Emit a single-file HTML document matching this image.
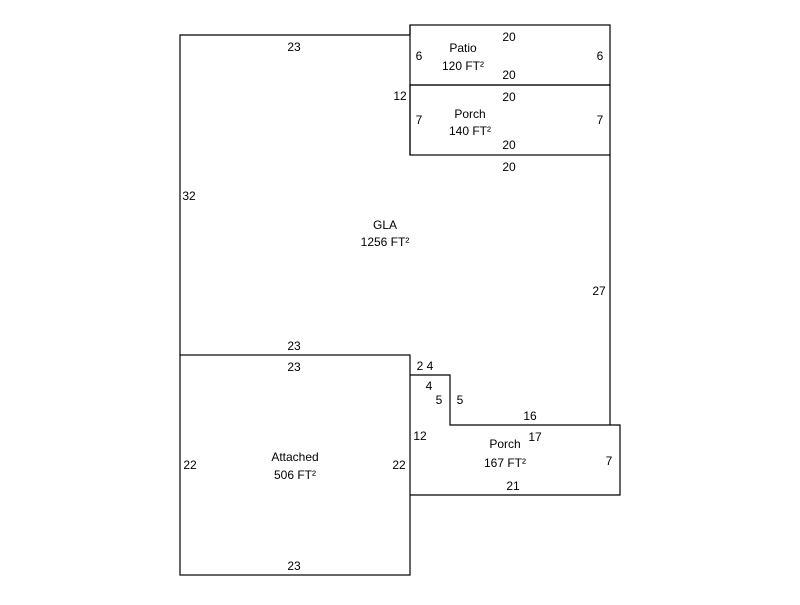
<!DOCTYPE html>
<html><head><style>body{margin:0;background:#fff}svg text{font-family:"Liberation Sans",Arial,sans-serif;font-size:12px;fill:#000}</style></head>
<body>
<svg width="800" height="600" xmlns="http://www.w3.org/2000/svg">
<g stroke="#000" stroke-width="1.2" fill="none">
<polyline points="410,35 180,35 180,355"/>
<rect x="410" y="25" width="200" height="60"/>
<rect x="410" y="85" width="200" height="70"/>
<line x1="410" y1="85" x2="410" y2="155"/>
<line x1="610" y1="155" x2="610" y2="425"/>
<rect x="180" y="355" width="230" height="220"/>
<polyline points="410,375 450,375 450,425 620,425 620,495 410,495"/>
<line x1="410" y1="35" x2="410" y2="25"/>
</g>
<g text-anchor="middle">
<text x="294" y="51">23</text>
<text x="189" y="200">32</text>
<text x="385" y="229">GLA</text>
<text x="385" y="246">1256 FT²</text>
<text x="599" y="295">27</text>
<text x="294" y="350">23</text>
<text x="463" y="52">Patio</text>
<text x="463" y="70">120 FT²</text>
<text x="509" y="41">20</text>
<text x="509" y="79">20</text>
<text x="419" y="60">6</text>
<text x="600" y="60">6</text>
<text x="400" y="100">12</text>
<text x="470" y="118">Porch</text>
<text x="470" y="135">140 FT²</text>
<text x="509" y="101">20</text>
<text x="509" y="149">20</text>
<text x="509" y="171">20</text>
<text x="419" y="124">7</text>
<text x="600" y="124">7</text>
<text x="294" y="371">23</text>
<text x="425" y="370">2 4</text>
<text x="429" y="390">4</text>
<text x="439" y="404">5</text>
<text x="460" y="404">5</text>
<text x="530" y="420">16</text>
<text x="420" y="440">12</text>
<text x="535" y="441">17</text>
<text x="505" y="448">Porch</text>
<text x="505" y="467">167 FT²</text>
<text x="609" y="465">7</text>
<text x="513" y="490">21</text>
<text x="190" y="469">22</text>
<text x="399" y="469">22</text>
<text x="295" y="461">Attached</text>
<text x="295" y="479">506 FT²</text>
<text x="294" y="570">23</text>
</g>
</svg>
</body></html>
